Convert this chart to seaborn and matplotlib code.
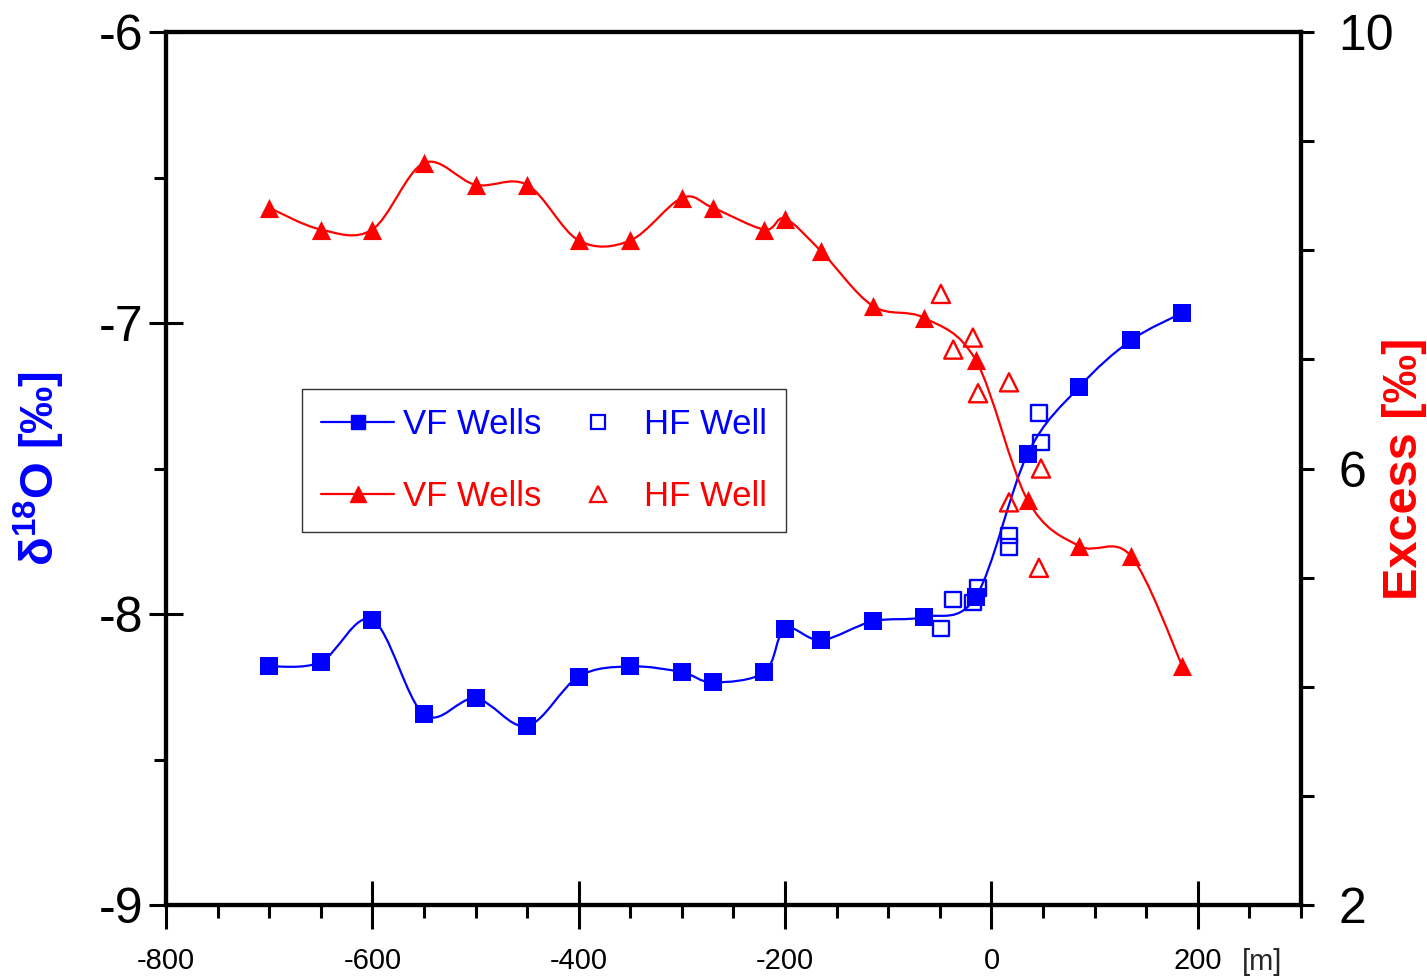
import numpy as np
import matplotlib
matplotlib.use("Agg")
import matplotlib.pyplot as plt
from matplotlib.path import Path
from matplotlib.patches import PathPatch
from matplotlib.lines import Line2D
from matplotlib.ticker import MultipleLocator, FixedLocator, FixedFormatter
import seaborn as sns

# distance along profile [m]
vf_x = [-700, -650, -600, -550, -500, -450, -400, -350, -300, -270, -220,
        -200, -165, -115, -65, -15, 35, 85, 135, 185]
# delta 18O, VF wells
vf_d18o = [-8.18, -8.165, -8.02, -8.345, -8.29, -8.385, -8.215, -8.18, -8.20,
           -8.235, -8.20, -8.05, -8.09, -8.025, -8.01, -7.94, -7.45, -7.22,
           -7.06, -6.965]
# deuterium excess, VF wells
vf_excess = [8.39, 8.19, 8.19, 8.80, 8.60, 8.60, 8.09, 8.09, 8.48, 8.39, 8.19,
             8.29, 7.99, 7.49, 7.38, 6.99, 5.71, 5.29, 5.20, 4.19]

# HF well samples
hf_x = [-49, -37, -18, -13, 17, 17, 46, 48]
hf_d18o = [-8.05, -7.95, -7.96, -7.91, -7.73, -7.77, -7.31, -7.41]
hf_excess = [7.60, 7.09, 7.20, 6.69, 6.79, 5.69, 5.09, 6.00]

# right axis ticks
excess_ticks = [2, 3, 4, 5, 6, 7, 8, 9, 10]
excess_ticklabels = ["2", "", "", "", "6", "", "", "", "10"]

BLUE = "#0000ff"
RED = "#ff0000"


def smooth_path(x, y):
    """Bezier path through the points (spreadsheet-style smoothed line)."""
    pts = np.column_stack([x, y]).astype(float)
    n = len(pts)
    verts = [pts[0]]
    codes = [Path.MOVETO]
    for i in range(n - 1):
        p0 = pts[max(i - 1, 0)]
        p1 = pts[i]
        p2 = pts[i + 1]
        p3 = pts[min(i + 2, n - 1)]
        verts += [p1 + (p2 - p0) / 6, p2 - (p3 - p1) / 6, p2]
        codes += [Path.CURVE4] * 3
    return Path(verts, codes)


sns.set_style("ticks")
plt.rcParams["font.family"] = ["Liberation Sans", "DejaVu Sans"]
plt.rcParams["axes.unicode_minus"] = False
plt.rcParams["mathtext.fontset"] = "custom"
plt.rcParams["mathtext.rm"] = "Liberation Sans"
plt.rcParams["mathtext.bf"] = "Liberation Sans:bold"

fig = plt.figure(figsize=(14.27, 9.77), dpi=100)
ax = fig.add_axes([0.1163, 0.0737, 0.7954, 0.8935])
ax2 = ax.twinx()

# lines
ax.add_patch(PathPatch(smooth_path(vf_x, vf_d18o), fill=False, edgecolor=BLUE,
                       lw=1.6, zorder=2))
ax2.add_patch(PathPatch(smooth_path(vf_x, vf_excess), fill=False, edgecolor=RED,
                        lw=1.6, zorder=2))

# markers
sns.scatterplot(x=vf_x, y=vf_d18o, marker="s", s=150, color=BLUE,
                edgecolor=BLUE, linewidth=0, ax=ax, zorder=3)
sns.scatterplot(x=hf_x, y=hf_d18o, marker="s", s=125, facecolor="none",
                edgecolor=BLUE, linewidth=1.7, ax=ax, zorder=4)
sns.scatterplot(x=vf_x, y=vf_excess, marker="^", s=190, color=RED,
                edgecolor=RED, linewidth=0, ax=ax2, zorder=3)
sns.scatterplot(x=hf_x, y=hf_excess, marker="^", s=170, facecolor="none",
                edgecolor=RED, linewidth=1.7, ax=ax2, zorder=4)

# axes ranges and ticks
ax.set_xlim(-800, 300)
ax.set_ylim(-9, -6)
ax2.set_ylim(2, 10)

ax.xaxis.set_major_locator(FixedLocator([-800, -600, -400, -200, 0, 200]))
ax.xaxis.set_minor_locator(MultipleLocator(50))
ax.yaxis.set_major_locator(MultipleLocator(1))
ax.yaxis.set_minor_locator(MultipleLocator(0.5))
ax2.yaxis.set_major_locator(FixedLocator(excess_ticks))
ax2.yaxis.set_major_formatter(FixedFormatter(excess_ticklabels))

ax.tick_params(axis="x", which="major", direction="inout", length=34, width=2.2,
               labelsize=21, pad=13, colors="black")
ax.tick_params(axis="x", which="minor", direction="out", length=9, width=2.2,
               colors="black")
ax.tick_params(axis="y", which="major", direction="inout", length=24, width=2.2,
               labelsize=36, pad=4, colors="black")
ax.tick_params(axis="y", which="minor", direction="out", length=9, width=2.2,
               colors="black")
ax2.tick_params(axis="y", which="major", direction="out", length=9, width=2.2,
                labelsize=36, pad=18, colors="black")

for a in (ax, ax2):
    for sp in a.spines.values():
        sp.set_linewidth(3)
        sp.set_visible(True)
        sp.set_color("black")
    a.set_xlabel("")

ax.set_ylabel(r"δ$^{\mathbf{18}}$O [‰]", color=BLUE, fontsize=34,
              fontweight="bold")
ax.yaxis.set_label_coords(-0.087, 0.5)
ax2.set_ylabel("Excess [‰]", color=RED, fontsize=35, fontweight="bold")
ax2.yaxis.set_label_coords(1.071, 0.5)

fig.text(1262 / 1427, 1 - 962 / 977, "[m]", fontsize=21, ha="center",
         va="center")

# legend
handles = [
    Line2D([], [], color=BLUE, lw=1.6, marker="s", ms=10, mec=BLUE),
    Line2D([], [], color=RED, lw=1.6, marker="^", ms=12, mec=RED),
    Line2D([], [], ls="none", marker="s", ms=9.5, mfc="none", mec=BLUE, mew=1.6),
    Line2D([], [], ls="none", marker="^", ms=11, mfc="none", mec=RED, mew=1.6),
]
labels = ["VF Wells", "VF Wells", "HF Well", "HF Well"]
leg = ax2.legend(handles, labels, ncol=2, loc="upper left",
                 bbox_to_anchor=(302 / 1427, 1 - 389 / 977),
                 bbox_transform=fig.transFigure, borderaxespad=0,
                 fontsize=25, frameon=True, fancybox=False, shadow=False,
                 handlelength=2.1, handletextpad=0.25, columnspacing=0.6,
                 labelspacing=1.12, borderpad=0.55)
leg.get_frame().set_edgecolor("black")
leg.get_frame().set_linewidth(1.0)
for txt, col in zip(leg.get_texts(), [BLUE, RED, BLUE, RED]):
    txt.set_color(col)

fig.savefig("out.png", dpi=100)
